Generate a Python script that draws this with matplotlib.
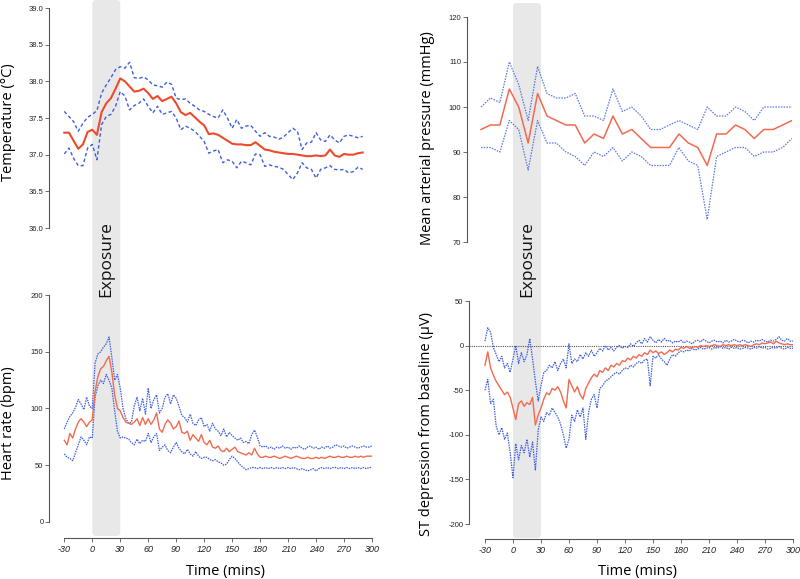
import numpy as np
import matplotlib
matplotlib.use("Agg")
import matplotlib.pyplot as plt
from matplotlib.patches import FancyBboxPatch

plt.rcParams["axes.unicode_minus"] = False

# ---------------- data ----------------
temp_t = list(range(-30, 295, 5))
temp_mean = [37.30, 37.30, 37.19, 37.08, 37.14, 37.31, 37.34, 37.27, 37.58, 37.70,
             37.77, 37.90, 38.04, 38.00, 37.93, 37.86, 37.87, 37.90, 37.84, 37.76,
             37.80, 37.73, 37.76, 37.79, 37.70, 37.58, 37.54, 37.57, 37.51, 37.45,
             37.40, 37.28, 37.29, 37.27, 37.23, 37.19, 37.15, 37.14, 37.14, 37.13,
             37.13, 37.17, 37.12, 37.07, 37.06, 37.04, 37.03, 37.02, 37.01, 37.01,
             37.00, 36.99, 36.98, 36.98, 36.99, 36.98, 36.99, 37.07, 36.99, 36.97,
             37.01, 37.00, 37.00, 37.02, 37.03]
temp_upper = [37.59, 37.52, 37.45, 37.32, 37.43, 37.51, 37.55, 37.60, 37.84, 37.95,
              38.05, 38.16, 38.20, 38.18, 38.26, 38.05, 38.04, 38.06, 38.02, 37.95,
              37.94, 37.92, 37.99, 37.96, 37.77, 37.75, 37.76, 37.70, 37.66, 37.61,
              37.59, 37.55, 37.52, 37.50, 37.61, 37.50, 37.36, 37.48, 37.36, 37.39,
              37.40, 37.32, 37.25, 37.30, 37.25, 37.24, 37.21, 37.24, 37.30, 37.36,
              37.32, 37.07, 37.16, 37.17, 37.30, 37.20, 37.18, 37.27, 37.20, 37.16,
              37.25, 37.27, 37.25, 37.23, 37.25]
temp_lower = [37.01, 37.09, 36.95, 36.85, 36.85, 37.09, 37.14, 36.93, 37.41, 37.52,
              37.55, 37.66, 37.86, 37.80, 37.61, 37.67, 37.70, 37.76, 37.66, 37.57,
              37.66, 37.55, 37.57, 37.59, 37.50, 37.34, 37.39, 37.36, 37.32, 37.25,
              37.18, 37.02, 37.05, 37.07, 36.89, 36.93, 36.91, 36.82, 36.91, 36.89,
              36.86, 37.01, 37.00, 36.84, 36.86, 36.84, 36.83, 36.80, 36.73, 36.66,
              36.75, 36.89, 36.82, 36.80, 36.68, 36.80, 36.82, 36.85, 36.80, 36.79,
              36.80, 36.75, 36.77, 36.83, 36.80]

map_t = list(range(-30, 301, 10))
map_mean = [95, 96, 96, 104, 100, 92, 103, 98, 97, 96, 96, 92, 94, 93, 98, 94, 95,
            93, 91, 91, 91, 94, 92, 91, 87, 94, 94, 96, 95, 93, 95, 95, 96, 97]
map_upper = [100, 102, 101, 110, 105, 97, 109, 103, 102, 102, 103, 98, 98, 97, 104, 99, 100,
             98, 95, 95, 96, 97, 96, 95, 100, 98, 98, 100, 99, 97, 100, 100, 100, 100]
map_lower = [91, 91, 90, 97, 95, 86, 97, 92, 92, 90, 89, 87, 90, 89, 91, 88, 90,
             89, 87, 87, 87, 91, 88, 87, 75, 89, 90, 91, 91, 89, 90, 90, 91, 93]

hr_t = list(range(-30, 301, 3))
hr_mean = [72, 68, 78, 74, 82, 88, 91, 88, 84, 88, 90,
           115, 128, 135, 137, 142, 146, 132, 112, 100, 98,
           92, 88, 87, 86, 88, 91, 85, 92, 86, 91,
           86, 90, 96, 82, 79, 86, 90, 87, 82, 84,
           89, 79, 78, 80, 72, 77, 74, 71, 77, 70,
           68, 72, 66, 65, 67, 63, 62, 65, 62, 64,
           66, 62, 61, 60, 59, 61, 59, 65, 60, 57,
           57, 58, 57, 57, 58, 57, 56, 57, 58, 57,
           56, 57, 58, 57, 56, 56, 57, 56, 56, 57,
           56, 57, 56, 57, 58, 57, 57, 58, 57, 57,
           58, 57, 57, 58, 57, 58, 57, 58, 58, 58]
hr_upper = [82, 88, 93, 96, 101, 108, 104, 99, 110, 102, 100,
            140, 148, 150, 154, 157, 163, 145, 125, 130, 118,
            100, 91, 87, 88, 102, 110, 98, 109, 95, 118,
            100, 108, 112, 96, 100, 110, 113, 104, 112, 109,
            102, 94, 92, 88, 95, 87, 85, 90, 92, 84,
            86, 80, 87, 82, 80, 76, 82, 75, 79, 76,
            74, 72, 74, 70, 71, 69, 77, 81, 75, 67,
            66, 67, 65, 66, 64, 66, 65, 67, 65, 66,
            64, 66, 65, 67, 65, 64, 66, 67, 65, 66,
            64, 66, 65, 67, 65, 66, 68, 67, 66, 67,
            65, 66, 67, 66, 65, 66, 67, 66, 66, 67]
hr_lower = [60, 57, 56, 54, 61, 68, 75, 72, 68, 75, 74,
            110, 120, 125, 122, 130, 125, 118, 98, 80, 74,
            75, 74, 73, 70, 68, 73, 69, 72, 71, 78,
            70, 75, 78, 63, 66, 68, 63, 61, 66, 70,
            65, 62, 60, 64, 60, 58, 62, 58, 56, 57,
            57, 55, 54, 55, 53, 52, 50, 51, 55, 58,
            56, 53, 50, 48, 46, 47, 48, 48, 47, 48,
            47, 48, 47, 48, 47, 48, 47, 48, 47, 48,
            47, 48, 47, 46, 47, 46, 45, 46, 47, 45,
            47, 48, 47, 48, 47, 48, 48, 47, 48, 47,
            48, 47, 48, 47, 48, 47, 48, 47, 48, 48]

st_t = list(range(-30, 301, 3))
st_mean = [-22, -7, -25, -33, -40, -45, -50, -55, -52, -58, -70,
           -83, -65, -62, -68, -64, -66, -58, -89, -78, -70,
           -60, -53, -55, -48, -50, -46, -52, -62, -70, -38,
           -45, -52, -46, -55, -60, -48, -42, -36, -32, -35,
           -28, -30, -25, -28, -22, -24, -20, -22, -17, -18,
           -14, -16, -12, -14, -10, -12, -8, -10, -5, -8,
           -6, -9, -7, -10, -8, -5, -7, -4, -5, -2,
           -3, -1, -3, -2, -1, -2, 0, -1, 0, -1,
           0, 1, 0, -1, 1, 0, 1, 0, 1, 0,
           1, 0, 1, 0, -1, 1, 2, 1, 3, 2,
           3, 4, 2, 5, 3, 2, 1, 2, 1, 1]
st_upper = [5, 20, 15, -2, -10, -18, -12, -25, -20, -30, -15,
            0, -20, -8, -18, -10, 8, -15, -40, -62, -45,
            -30, -28, -22, -25, -18, -28, -20, -15, -25, 2,
            -20, -15, -18, -10, -15, -8, -12, -5, -12, -8,
            -3, -6, 0, -5, -2, -6, -2, 0, -3, -1,
            -2, 2, -1, 3, 6, 2, 8, 4, 10, 6,
            3, 7, 4, 8, 5, 6, 3, 5, 4, 6,
            3, 5, 4, 2, 5, 6, 4, 7, 5, 3,
            5, 6, 4, 5, 3, 6, 4, 5, 7, 5,
            4, 6, 5, 3, 5, 4, 6, 5, 7, 5,
            4, 6, 5, 7, 10, 6, 5, 8, 5, 5]
st_lower = [-50, -38, -65, -60, -90, -100, -92, -105, -98, -120, -148,
            -110, -128, -112, -120, -105, -125, -108, -140, -95, -80,
            -85, -75, -78, -70, -75, -80, -88, -100, -115, -105,
            -78, -85, -72, -80, -70, -105, -75, -60, -55, -70,
            -48, -45, -40, -38, -35, -32, -30, -32, -28, -25,
            -26, -22, -24, -20, -18, -20, -16, -15, -45, -12,
            -14, -10, -15, -18, -22, -15, -10, -12, -8, -6,
            -7, -5, -6, -3, -5, -4, -2, -4, -3, -2,
            -4, -2, -3, -1, -3, -2, -4, -2, -3, -2,
            -4, -3, -2, -3, -4, -2, -3, -1, -3, -2,
            -4, -3, -2, -3, -1, -3, -4, -2, -3, -3]

xticks = list(range(-30, 301, 30))
exposure = (0, 30)

# ---------------- styling ----------------
RED = "#ee4a2c"
RED_L = "#f26a50"
BLUE = "#3f5fe0"
SPINE = "#555555"
LABEL_FONT = ["Open Sans", "DejaVu Sans"]
TICK_FONT = ["Liberation Sans", "DejaVu Sans"]

W, H = 800, 579
fig = plt.figure(figsize=(W / 100, H / 100), dpi=100)
fig.patch.set_facecolor("white")


def px_axes(l, t, r, b):
    return fig.add_axes([l / W, 1 - b / H, (r - l) / W, (b - t) / H])


def style(ax, bottom=False):
    for s in ["top", "right"]:
        ax.spines[s].set_visible(False)
    ax.set_facecolor("none")
    ax.spines["left"].set_color(SPINE)
    ax.spines["left"].set_linewidth(0.8)
    ax.tick_params(axis="y", direction="out", length=3, width=0.6, color=SPINE,
                   labelsize=5.5, pad=1, labelcolor="#222222")
    for lab in ax.get_yticklabels():
        lab.set_family(TICK_FONT)
    if bottom:
        ax.spines["bottom"].set_color(SPINE)
        ax.spines["bottom"].set_linewidth(0.8)
        ax.spines["bottom"].set_bounds(-30, 300)
        ax.set_xticks(xticks)
        ax.tick_params(axis="x", direction="out", length=3, width=0.6, color=SPINE,
                       labelsize=6.5, pad=2, labelcolor="#222222")
        for lab in ax.get_xticklabels():
            lab.set_family(TICK_FONT)
            lab.set_style("italic")
        ax.set_xlabel("Time (mins)", family=LABEL_FONT, fontsize=10.5)
    else:
        ax.spines["bottom"].set_visible(False)
        ax.set_xticks([])


# top-left: temperature
ax1 = px_axes(49, 8, 372, 228)
ax1.set_xlim(-46.4, 300)
ax1.set_ylim(36.0, 39.0)
ax1.set_yticks(np.arange(36.0, 39.01, 0.5))
ax1.yaxis.set_major_formatter(matplotlib.ticker.FormatStrFormatter("%.1f"))
ax1.plot(temp_t, temp_upper, color=BLUE, lw=1.0, ls=(0, (2.5, 1.8)))
ax1.plot(temp_t, temp_lower, color=BLUE, lw=1.0, ls=(0, (2.5, 1.8)))
ax1.plot(temp_t, temp_mean, color=RED, lw=1.5)
style(ax1)
ax1.set_ylabel("Temperature (°C)", family=LABEL_FONT, fontsize=10.5)

# top-right: MAP
ax2 = px_axes(467, 17, 792, 242)
ax2.set_xlim(-44.9, 300)
ax2.set_ylim(70, 120)
ax2.set_yticks(range(70, 121, 10))
ax2.plot(map_t, map_upper, color=BLUE, lw=0.9, ls=(0, (1.2, 1.0)), alpha=0.85)
ax2.plot(map_t, map_lower, color=BLUE, lw=0.9, ls=(0, (1.2, 1.0)), alpha=0.85)
ax2.plot(map_t, map_mean, color=RED_L, lw=1.1)
style(ax2)
ax2.set_ylabel("Mean arterial pressure (mmHg)", family=LABEL_FONT, fontsize=10.5)

# bottom-left: HR
ax3 = px_axes(49, 295, 372, 538)
ax3.set_xlim(-46.4, 300)
ax3.set_ylim(-14.1, 200)
ax3.set_yticks(range(0, 201, 50))
ax3.spines["left"].set_bounds(0, 200)
ax3.plot(hr_t, hr_upper, color=BLUE, lw=0.9, ls=(0, (1.2, 0.8)))
ax3.plot(hr_t, hr_lower, color=BLUE, lw=0.9, ls=(0, (1.2, 0.8)))
ax3.plot(hr_t, hr_mean, color=RED_L, lw=1.0)
style(ax3, bottom=True)
ax3.set_ylabel("Heart rate (bpm)", family=LABEL_FONT, fontsize=10.5)

# bottom-right: ST
ax4 = px_axes(469, 301, 793, 539)
ax4.set_xlim(-47.1, 300)
ax4.set_ylim(-216.8, 50)
ax4.set_yticks(range(-200, 51, 50))
ax4.spines["left"].set_bounds(-200, 50)
ax4.axhline(0, xmin=0, xmax=1, color="#555555", lw=0.8, ls=(0, (1, 1)))
ax4.plot(st_t, st_upper, color=BLUE, lw=0.9, ls=(0, (1.2, 0.8)))
ax4.plot(st_t, st_lower, color=BLUE, lw=0.9, ls=(0, (1.2, 0.8)))
ax4.plot(st_t, st_mean, color=RED_L, lw=1.0)
style(ax4, bottom=True)
ax4.set_ylabel("ST depression from baseline (µV)", family=LABEL_FONT, fontsize=10.5)

# place ylabels at fixed pixel positions
for ax, xp, yp in [(ax1, 16.5, 122), (ax3, 16.5, 423), (ax2, 435, 138), (ax4, 434, 424)]:
    inv = ax.transAxes.inverted()
    ax.yaxis.set_label_coords(inv.transform((xp, 0))[0], inv.transform((0, H - yp))[1])

# place xlabels
for ax, xp, yp in [(ax3, 225, 564), (ax4, 638, 564)]:
    inv = ax.transAxes.inverted()
    ax.xaxis.set_label_coords(inv.transform((xp, 0))[0], inv.transform((0, H - yp))[1])

# exposure bands (drawn in pixel space from data x positions)
for ax_bot, top_px, bot_px in [(ax3, 0, 536), (ax4, 3, 538)]:
    x0 = ax_bot.transData.transform((exposure[0], 0))[0]
    x1 = ax_bot.transData.transform((exposure[1], 0))[0]
    y0 = H - bot_px
    y1 = H - top_px
    band = FancyBboxPatch((x0, y0), x1 - x0, y1 - y0,
                          boxstyle="round,pad=0,rounding_size=4",
                          transform=None, facecolor="#e8e8e8", edgecolor="none",
                          zorder=-5)
    fig.add_artist(band)
    fig.text((x0 + x1) / 2 / W, 1 - 259 / H, "Exposure", rotation=90,
             ha="center", va="center", family=LABEL_FONT, fontsize=12.5,
             color="#111111")

fig.savefig("out.png", dpi=100)
